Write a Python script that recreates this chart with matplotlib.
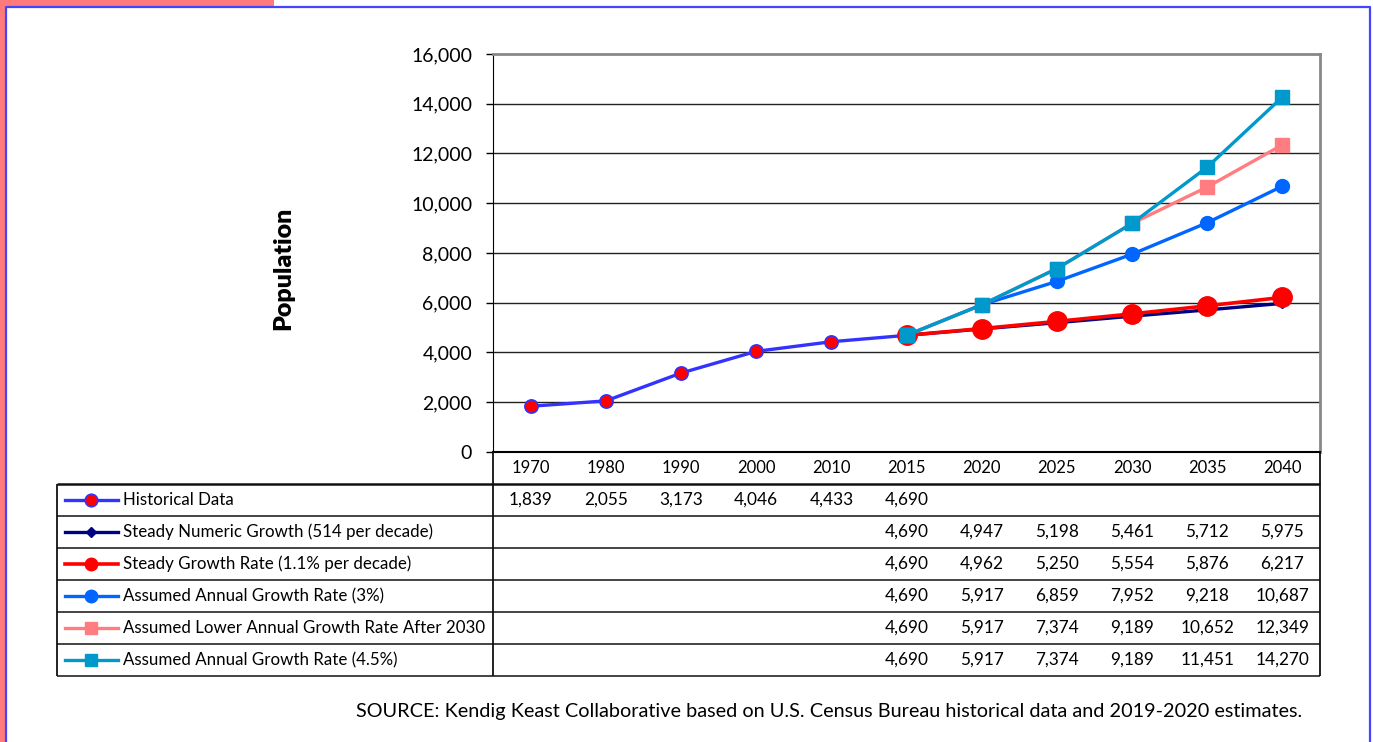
import matplotlib
matplotlib.use("Agg")
import matplotlib.pyplot as plt
from matplotlib.patches import Rectangle
from matplotlib.lines import Line2D

plt.rcParams['font.family'] = ['Lato', 'DejaVu Sans']

# ---------------- data ----------------
years = ['1970', '1980', '1990', '2000', '2010', '2015', '2020', '2025', '2030', '2035', '2040']
historical = [1839, 2055, 3173, 4046, 4433, 4690]           # 1970..2015
steady_numeric = [4690, 4947, 5198, 5461, 5712, 5975]       # 2015..2040
steady_rate = [4690, 4962, 5250, 5554, 5876, 6217]
annual_3 = [4690, 5917, 6859, 7952, 9218, 10687]
lower_after_2030 = [4690, 5917, 7374, 9189, 10652, 12349]
annual_45 = [4690, 5917, 7374, 9189, 11451, 14270]

series_names = ['Historical Data',
                'Steady Numeric Growth (514 per decade)',
                'Steady Growth Rate (1.1% per decade)',
                'Assumed Annual Growth Rate (3%)',
                'Assumed Lower Annual Growth Rate After 2030',
                'Assumed Annual Growth Rate (4.5%)']
series_values = [historical, steady_numeric, steady_rate, annual_3, lower_after_2030, annual_45]
series_start = [0, 5, 5, 5, 5, 5]

styles = [
    dict(color='#3333FF', marker='o', ms=9.5, mfc='#FF0000', mec='#3333FF', mew=1.2, lw=2.4),
    dict(color='#000080', marker='D', ms=5.5, mfc='#000080', mec='#000080', lw=2.4),
    dict(color='#FF0000', marker='o', ms=14, mfc='#FF0000', mec='#FF0000', lw=2.6),
    dict(color='#0066FF', marker='o', ms=10, mfc='#0066FF', mec='#0066FF', lw=2.4),
    dict(color='#FF7C80', marker='s', ms=9.5, mfc='#FF7C80', mec='#FF7C80', lw=2.4),
    dict(color='#0099CC', marker='s', ms=9.5, mfc='#0099CC', mec='#0099CC', lw=2.4),
]

W, H = 1373, 742
fig = plt.figure(figsize=(W / 100, H / 100), dpi=100)


def fx(px):
    return px / W


def fy(py):
    return 1 - py / H


# ---------------- decorative frame ----------------
fig.patches.append(Rectangle((0, fy(6)), fx(274), 6 / H, transform=fig.transFigure,
                             facecolor='#FF7B7B', edgecolor='none', zorder=0))
fig.patches.append(Rectangle((0, 0), fx(5), 1, transform=fig.transFigure,
                             facecolor='#FF7B7B', edgecolor='none', zorder=0))
fig.add_artist(Line2D([fx(6), fx(6), fx(1370), fx(1370)], [0, fy(7), fy(7), 0],
                      transform=fig.transFigure, color='#4444FF', lw=1.6))

# ---------------- chart ----------------
L, R, T, B = 493, 1320, 54, 452
ax = fig.add_axes([fx(L), fy(B), (R - L) / W, (B - T) / H])
n = len(years)
ax.set_xlim(-0.5, n - 0.5)
ax.set_ylim(0, 16000)
ax.set_yticks(range(0, 16001, 2000))
ax.set_yticklabels([f'{v:,}' for v in range(0, 16001, 2000)], fontsize=14)
ax.set_xticks([])
ax.tick_params(axis='y', length=5, width=1, pad=10, color='black')
for yv in range(2000, 16000, 2000):
    ax.axhline(yv, color='#222222', lw=1, zorder=1)
ax.spines['top'].set_color('#888888')
ax.spines['top'].set_linewidth(2)
ax.spines['right'].set_color('#888888')
ax.spines['right'].set_linewidth(2)
ax.spines['left'].set_color('black')
ax.spines['bottom'].set_color('black')
ax.spines['bottom'].set_linewidth(1.5)

for vals, st, s0 in zip(series_values, styles, series_start):
    xs = list(range(s0, s0 + len(vals)))
    ax.plot(xs, vals, zorder=3, clip_on=False, **st)

fig.text(fx(283), fy(268), 'Population', rotation=90, ha='center', va='center',
         fontsize=18, fontweight='heavy')

# ---------------- data table ----------------
TL, TB = 57, 676
colw = (R - L) / n
label_w = (L - TL) / colw
tax = fig.add_axes([fx(TL), fy(TB), (R - TL) / W, (TB - B) / H])
tax.axis('off')
x0 = -0.5 - label_w
tax.set_xlim(x0, n - 0.5)
nrows = len(series_names) + 1
tax.set_ylim(nrows, 0)

lc = '#111111'
tax.vlines(-0.5, 0, nrows, color=lc, lw=1.3, clip_on=False)
tax.vlines(n - 0.5, 0, nrows, color=lc, lw=1.3, clip_on=False)
tax.vlines(x0, 1, nrows, color=lc, lw=1.3, clip_on=False)
tax.hlines(1, x0, n - 0.5, color=lc, lw=1.8, clip_on=False)
for r in range(2, nrows + 1):
    tax.hlines(r, x0, n - 0.5, color=lc, lw=1.1, clip_on=False)

for i, y in enumerate(years):
    tax.text(i, 0.5, y, ha='center', va='center', fontsize=12)

leg_x1 = x0 + (65 - TL) / colw
leg_x2 = x0 + (118 - TL) / colw
txt_x = x0 + (123 - TL) / colw
for r, (name, vals, st, s0) in enumerate(zip(series_names, series_values, styles, series_start), start=1):
    yc = r + 0.5
    legst = dict(st)
    legst['ms'] = min(st['ms'], 9)
    tax.plot([leg_x1, leg_x2], [yc, yc], color=st['color'], lw=st['lw'], clip_on=False)
    tax.plot([(leg_x1 + leg_x2) / 2], [yc], linestyle='none', clip_on=False,
             **{k: v for k, v in legst.items() if k not in ('lw', 'color')})
    tax.text(txt_x, yc, name, ha='left', va='center', fontsize=12.2)
    for j, v in enumerate(vals):
        tax.text(s0 + j, yc, f'{v:,}', ha='center', va='center', fontsize=12.4)

fig.text(fx(1302), fy(712),
         'SOURCE: Kendig Keast Collaborative based on U.S. Census Bureau historical data and 2019-2020 estimates.',
         ha='right', va='center', fontsize=14.3)

fig.savefig('out.png', dpi=100)
